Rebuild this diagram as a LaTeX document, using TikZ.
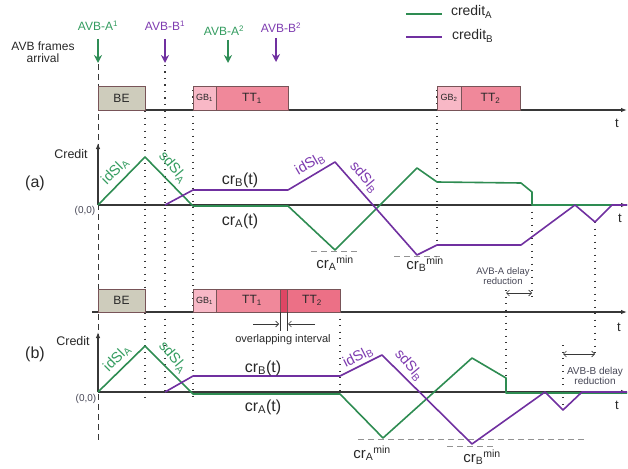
\documentclass[tikz,border=0pt]{standalone}
\usepackage{fontspec}
\setmainfont{Liberation Sans}
\usetikzlibrary{arrows.meta}
\definecolor{cgreen}{RGB}{46,140,82}
\definecolor{cpurple}{RGB}{112,48,160}
\definecolor{lgreen}{RGB}{52,156,96}
\definecolor{lpurple}{RGB}{126,60,176}
\definecolor{befill}{RGB}{206,204,188}
\definecolor{gbfill}{RGB}{248,184,198}
\definecolor{ttfill}{RGB}{240,136,154}
\definecolor{ttfillb}{RGB}{236,112,134}
\definecolor{ovfill}{RGB}{222,70,100}
\definecolor{boxedge}{RGB}{120,84,88}
\definecolor{axisc}{RGB}{55,55,55}
\definecolor{txtc}{RGB}{40,40,40}
\definecolor{smallc}{RGB}{70,70,85}
\newcommand{\fs}[1]{\fontsize{#1}{#1}\selectfont}
\begin{document}
\begin{tikzpicture}[x=1pt,y=-1pt,
  every node/.style={inner sep=0pt, outer sep=0pt, text=txtc},
  tbox/.style={draw=boxedge, line width=0.7pt, inner sep=0pt, anchor=center, font=\fs{12}},
  gline/.style={cgreen, line width=1.6pt, line join=round},
  pline/.style={cpurple, line width=1.6pt, line join=round},
  axisline/.style={axisc, line width=1.1pt, -{Latex[length=6pt,width=4.5pt]}},
  dotln/.style={axisc, line width=1.3pt, dash pattern=on 1.3pt off 5.2pt},
  dashln/.style={axisc, line width=0.8pt, dash pattern=on 6pt off 4pt},
  minln/.style={gray!85, line width=0.9pt, dash pattern=on 6pt off 4pt},
  frameg/.style={lgreen!90!black, line width=1.8pt, -{Stealth[length=8pt,width=8pt]}},
  framep/.style={cpurple, line width=1.8pt, -{Stealth[length=8pt,width=8pt]}},
  dimarr/.style={axisc, line width=0.6pt, {Straight Barb[length=3pt]}-{Straight Barb[length=3pt]}},
  onearr/.style={axisc, line width=0.6pt, -{Straight Barb[length=3pt]}},
  slope/.style={font=\fs{14.5}},
  crl/.style={font=\fs{16}},
  small/.style={font=\fs{10}, text=smallc, align=center}
]
\useasboundingbox (0,0) rectangle (628,468);

% ---------- legend ----------
\coordinate (lgA1) at (406,14); \coordinate (lgA2) at (442,14);
\coordinate (lgB1) at (406,37); \coordinate (lgB2) at (442,37);
\draw[gline] (lgA1) -- (lgA2);
\draw[pline] (lgB1) -- (lgB2);
\node[anchor=west, font=\fs{14}] (legA) at (451,12) {credit\textsubscript{A}};
\node[anchor=west, font=\fs{14}] (legB) at (452,36) {credit\textsubscript{B}};

% ---------- frame arrivals ----------
\node[font=\fs{12}, align=center] (arr) at (43,52) {AVB frames\\arrival};
\node[font=\fs{12}, text=lgreen] (fa1) at (98,26) {AVB-A\textsuperscript{1}};
\node[font=\fs{12}, text=lpurple] (fb1) at (165,26) {AVB-B\textsuperscript{1}};
\node[font=\fs{12}, text=lgreen] (fa2) at (224,31) {AVB-A\textsuperscript{2}};
\node[font=\fs{12}, text=lpurple] (fb2) at (281,28) {AVB-B\textsuperscript{2}};
\coordinate (fa1s) at (98,39);  \coordinate (fa1e) at (98,63);
\coordinate (fb1s) at (165,39); \coordinate (fb1e) at (165,63);
\coordinate (fa2s) at (228,40); \coordinate (fa2e) at (228,63);
\coordinate (fb2s) at (276,38); \coordinate (fb2e) at (276,62);
\draw[frameg] (fa1s) -- (fa1e);
\draw[framep] (fb1s) -- (fb1e);
\draw[frameg] (fa2s) -- (fa2e);
\draw[framep] (fb2s) -- (fb2e);

% ---------- vertical guide lines ----------
\draw[dashln] (98,64) -- (98,440);
\draw[dotln] (145,111) -- (145,400);
\draw[dotln] (165,65) -- (165,392);
\draw[dotln] (193,90) -- (193,400);
\draw[dotln] (437,90) -- (437,245);
\draw[dotln] (532,192) -- (532,298);
\draw[dotln] (506,290) -- (506,392);
\draw[dotln] (595,222) -- (595,358);
\draw[dotln] (563,345) -- (563,410);
\draw[dotln] (340,312) -- (340,396);

% ---------- timeline (a) ----------
\coordinate (tla0) at (98,110); \coordinate (tla1) at (627,110);
\draw[axisline] (tla0) -- (tla1);
\node[font=\fs{13}] (ta) at (617,123) {t};
\node[tbox, fill=befill, minimum width=47pt, minimum height=24pt] (beA) at (121.5,98) {BE};
\node[tbox, fill=gbfill, minimum width=23pt, minimum height=24pt, font=\fs{9}] (gb1A) at (204.5,98) {GB\textsubscript{1}};
\node[tbox, fill=ttfill, minimum width=72pt, minimum height=24pt] (tt1A) at (252,98) {TT\textsubscript{1}};
\node[tbox, fill=gbfill, minimum width=24pt, minimum height=24pt, font=\fs{9}] (gb2A) at (449,98) {GB\textsubscript{2}};
\node[tbox, fill=ttfill, minimum width=59pt, minimum height=24pt] (tt2A) at (490.5,98) {TT\textsubscript{2}};

% ---------- credit (a) ----------
\node[font=\fs{12.5}] (credA) at (71,154) {Credit};
\node[font=\fs{16}] (labA) at (35,183) {(a)};
\node[small] (ooA) at (85,211) {(0,0)};
\coordinate (oA) at (98,205);
\coordinate (cyA) at (98,143);
\coordinate (cxA) at (627,205);
\draw[axisline] (oA) -- (cyA);
\draw[axisline] (oA) -- (cxA);
\node[font=\fs{13}] (tA) at (620,218) {t};

\draw[minln] (311,251) -- (358,251);
\draw[minln] (394,256) -- (442,256);

\draw[gline] (oA) -- (145,157) -- (193,206) -- (288,206) -- (335,250) -- (417,168)
  -- (437,182) -- (521,183) -- (532,192) -- (532,205) -- (627,205);
\draw[pline] (165,205) -- (193,190) -- (288,190) -- (335,162) -- (417,255)
  -- (437,245) -- (521,245) -- (575,205) -- (595,222) -- (612,205) -- (627,205);

\node[slope, text=lgreen, rotate=45] (idA) at (115,171) {idSl\textsubscript{A}};
\node[slope, text=lgreen, rotate=-50] (sdA) at (173,167) {sdSl\textsubscript{A}};
\node[slope, text=lpurple, rotate=30] (idB) at (310,164) {idSl\textsubscript{B}};
\node[slope, text=lpurple, rotate=-50] (sdB) at (364,177) {sdSl\textsubscript{B}};
\node[crl] (crBa) at (240,180) {cr\textsubscript{B}(t)};
\node[crl] (crAa) at (240,221) {cr\textsubscript{A}(t)};
\node[font=\fs{15}] (minAa) at (335,263) {cr\textsubscript{A}\textsuperscript{min}};
\node[font=\fs{15}] (minBa) at (425,264) {cr\textsubscript{B}\textsuperscript{min}};

\node[small, font=\fs{9.5}] (redA) at (503,276) {AVB-A delay\\reduction};
\coordinate (rA1) at (506,293); \coordinate (rA2) at (532,293);
\draw[dimarr] (rA1) -- (rA2);

% ---------- timeline (b) ----------
\coordinate (tlb0) at (92,312); \coordinate (tlb1) at (627,312);
\draw[axisline] (tlb0) -- (tlb1);
\node[font=\fs{13}] (tb) at (619,327) {t};
\node[tbox, fill=befill, minimum width=47pt, minimum height=23pt] (beB) at (121.5,300.5) {BE};
\node[tbox, fill=gbfill, minimum width=23pt, minimum height=23pt, font=\fs{9}] (gb1B) at (204.5,300.5) {GB\textsubscript{1}};
\node[tbox, fill=ttfill, minimum width=72pt, minimum height=23pt] (tt1B) at (252,300.5) {};
\node[tbox, fill=ttfillb, minimum width=60pt, minimum height=23pt] (tt2B) at (310,300.5) {};
\node[tbox, fill=ovfill, minimum width=7pt, minimum height=23pt] (ovB) at (283.5,300.5) {};
\node[font=\fs{12}] (tt1Bt) at (252,300.5) {TT\textsubscript{1}};
\node[font=\fs{12}] (tt2Bt) at (312,300.5) {TT\textsubscript{2}};

\draw[axisc, line width=0.5pt] (280,312) -- (280,331);
\draw[axisc, line width=0.5pt] (287,312) -- (287,331);
\coordinate (ol1) at (253,324); \coordinate (ol2) at (279,324);
\coordinate (or1) at (315,324); \coordinate (or2) at (288,324);
\draw[onearr] (ol1) -- (ol2);
\draw[onearr] (or1) -- (or2);
\node[font=\fs{11}] (ovl) at (283,340) {overlapping interval};

% ---------- credit (b) ----------
\node[font=\fs{12.5}] (credB) at (73,341) {Credit};
\node[font=\fs{16}] (labB) at (35,354) {(b)};
\node[small] (ooB) at (86,399) {(0,0)};
\coordinate (oB) at (98,392);
\coordinate (cyB) at (98,332);
\coordinate (cxB) at (627,392);
\draw[axisline] (oB) -- (cyB);
\draw[axisline] (oB) -- (cxB);
\node[font=\fs{13}] (tB) at (617,405) {t};

\draw[minln] (358,439) -- (584,439);
\draw[minln] (447,446) -- (494,446);

\draw[gline] (oB) -- (145,346) -- (193,394) -- (340,394) -- (383,438) -- (472,358)
  -- (506,378) -- (506,393) -- (627,393);
\draw[pline] (165,392) -- (193,376) -- (340,376) -- (382,355) -- (472,444)
  -- (545,392) -- (563,410) -- (582,392) -- (627,392);

\node[slope, text=lgreen, rotate=45] (idAb) at (117,358) {idSl\textsubscript{A}};
\node[slope, text=lgreen, rotate=-50] (sdAb) at (173,357) {sdSl\textsubscript{A}};
\node[slope, text=lpurple, rotate=27] (idBb) at (358,357) {idSl\textsubscript{B}};
\node[slope, text=lpurple, rotate=-50] (sdBb) at (409,365) {sdSl\textsubscript{B}};
\node[crl] (crBb) at (263,368) {cr\textsubscript{B}(t)};
\node[crl] (crAb) at (263,407) {cr\textsubscript{A}(t)};
\node[font=\fs{15}] (minAb) at (372,453) {cr\textsubscript{A}\textsuperscript{min}};
\node[font=\fs{15}] (minBb) at (482,457) {cr\textsubscript{B}\textsuperscript{min}};

\node[small, font=\fs{10}] (redB) at (595,376) {AVB-B delay\\reduction};
\coordinate (rB1) at (563,354); \coordinate (rB2) at (595,354);
\draw[dimarr] (rB1) -- (rB2);
\end{tikzpicture}
\end{document}
